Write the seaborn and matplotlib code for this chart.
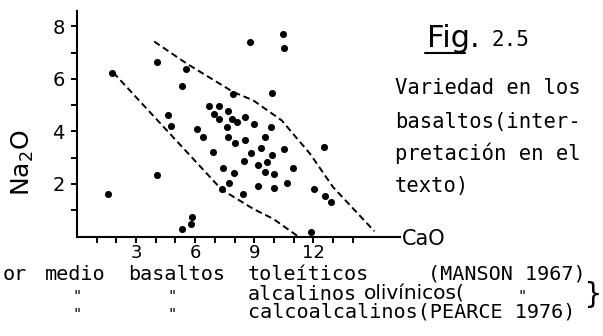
import matplotlib
matplotlib.use("Agg")
import matplotlib.pyplot as plt
from matplotlib.lines import Line2D
import seaborn as sns
import pandas as pd

# --- data -------------------------------------------------------------
cao = [1.59, 1.80, 4.04, 4.08, 4.64, 4.76, 5.31, 5.52, 5.31, 5.77, 5.82,
       7.93, 8.78, 9.91, 10.47, 10.51, 11.90, 12.05, 12.54, 12.59, 12.89,
       6.69, 7.23, 6.94, 7.68, 7.22, 7.85, 8.11, 8.53, 7.63, 8.98, 9.85,
       6.07, 6.38, 7.68, 8.02, 8.53, 9.55, 6.92, 9.32, 10.51, 8.83, 9.91,
       8.48, 9.63, 9.17, 10.95, 7.40, 7.98, 9.55, 10.02, 7.73, 9.17, 10.02,
       10.68, 7.38, 8.45]
na2o = [1.62, 6.24, 6.64, 2.34, 4.61, 4.20, 5.71, 6.36, 0.28, 0.48, 0.76,
        5.42, 7.40, 5.47, 7.72, 7.19, 0.17, 1.79, 3.40, 1.56, 1.32,
        4.97, 4.97, 4.67, 4.79, 4.46, 4.48, 4.35, 4.56, 4.15, 4.29, 4.18,
        4.08, 3.77, 3.77, 3.55, 3.68, 3.77, 3.21, 3.38, 3.33, 3.17, 3.10,
        2.89, 2.85, 2.72, 2.62, 2.60, 2.41, 2.44, 2.38, 2.03, 1.92, 1.84,
        2.03, 1.80, 1.62]

# field boundaries (dashed)
upper_cao = [3.92, 5.57, 7.93, 8.95, 10.39, 11.83, 13.0, 15.1]
upper_na2o = [7.42, 6.58, 5.50, 5.18, 4.42, 3.15, 1.88, 0.20]
lower_cao = [1.84, 7.35, 8.10, 8.95, 9.97, 11.23]
lower_na2o = [6.24, 1.78, 1.44, 1.05, 0.67, 0.0]

y_major = [2, 4, 6, 8]
y_minor = [1, 3, 5, 7]
x_major = [3, 6, 9, 12]
x_minor = [1, 2, 4, 5, 7, 8, 10, 11, 13, 14]

# --- style ------------------------------------------------------------
sns.set_theme(style="white")
plt.rcParams["font.family"] = ["DejaVu Sans"]
plt.rcParams["mathtext.fontset"] = "dejavusans"

W, H = 603, 336
fig = plt.figure(figsize=(W / 100, H / 100), dpi=100)
fig.patch.set_facecolor("white")


def fx(x):
    return x / W


def fy(y):
    return 1 - y / H


ax = fig.add_axes([fx(77), fy(236.5), 323 / W, 226 / H])
ax.set_facecolor("white")

pts = pd.DataFrame({"CaO": cao, "Na2O": na2o})
sns.scatterplot(data=pts, x="CaO", y="Na2O", ax=ax, color="black",
                s=26, linewidth=0, clip_on=False, zorder=3)

dash = (0, (3.4, 2.0))
sns.lineplot(x=upper_cao, y=upper_na2o, ax=ax, sort=False, estimator=None,
             color="black", linewidth=1.4, linestyle=dash)
sns.lineplot(x=lower_cao, y=lower_na2o, ax=ax, sort=False, estimator=None,
             color="black", linewidth=1.4, linestyle=dash)

ax.set_xlim(0, 16.4)
ax.set_ylim(0, 8.6)
ax.set_xlabel("")
ax.set_ylabel("")

sns.despine(ax=ax)
for side in ("left", "bottom"):
    ax.spines[side].set_color("black")
    ax.spines[side].set_linewidth(1.5)

ax.set_xticks(x_major)
ax.set_xticklabels([str(v) for v in x_major])
ax.set_xticks(x_minor, minor=True)
ax.set_yticks(y_major)
ax.set_yticklabels([str(v) for v in y_major])
ax.set_yticks(y_minor, minor=True)
ax.tick_params(which="both", direction="out", length=4, width=1.4,
               color="black", labelcolor="black")
ax.tick_params(axis="x", which="both", bottom=True, pad=1.5, labelsize=13)
ax.tick_params(axis="y", which="both", left=True, pad=5, labelsize=14)

# axis titles
fig.text(fx(23), fy(163), r"Na$_2$O", rotation=90, ha="center", va="center",
         fontsize=18, color="black")
fig.text(fx(402), fy(245), "CaO", ha="left", va="baseline",
         fontsize=15, color="black")

# figure caption at right
fig.text(fx(427), fy(47), "Fig.", ha="left", va="baseline",
         fontsize=22, color="black")
fig.add_artist(Line2D([fx(425), fx(465)], [fy(53), fy(53)],
                      transform=fig.transFigure, color="black", linewidth=1.5))
mono = "DejaVu Sans Mono"
fig.text(fx(492), fy(46), "2.5", ha="left", va="baseline",
         fontsize=15, family=mono, color="black")
for text, base in [("Variedad en los", 94), ("basaltos(inter-", 128),
                   ("pretación en el", 160), ("texto)", 192)]:
    fig.text(fx(395), fy(base), text, ha="left", va="baseline",
             fontsize=14.8, family=mono, color="black")

# legend lines below the axis
line1 = [("or", 3), ("medio", 45), ("basaltos", 128), ("toleíticos", 248),
         ("(MANSON 1967)", 428)]
for text, x in line1:
    fig.text(fx(x), fy(280), text, ha="left", va="baseline",
             fontsize=14.5, family=mono, color="black")

fig.text(fx(248), fy(300), "alcalinos", ha="left", va="baseline",
         fontsize=14.5, family=mono, color="black")
fig.text(fx(364), fy(300), "olivínicos(", ha="left", va="baseline",
         fontsize=14.5, color="black")
fig.text(fx(248), fy(318), "calcoalcalinos(PEARCE 1976)", ha="left",
         va="baseline", fontsize=14.5, family=mono, color="black")

# ditto marks
for x in (77, 172):
    for y in (297, 315):
        fig.text(fx(x), fy(y), '"', ha="center", va="center",
                 fontsize=11, family=mono, color="black")
fig.text(fx(522), fy(297), '"', ha="center", va="center",
         fontsize=11, family=mono, color="black")
fig.text(fx(585), fy(303), "}", ha="left", va="baseline",
         fontsize=20, family=mono, color="black")

fig.savefig("out.png", dpi=100, facecolor="white")
